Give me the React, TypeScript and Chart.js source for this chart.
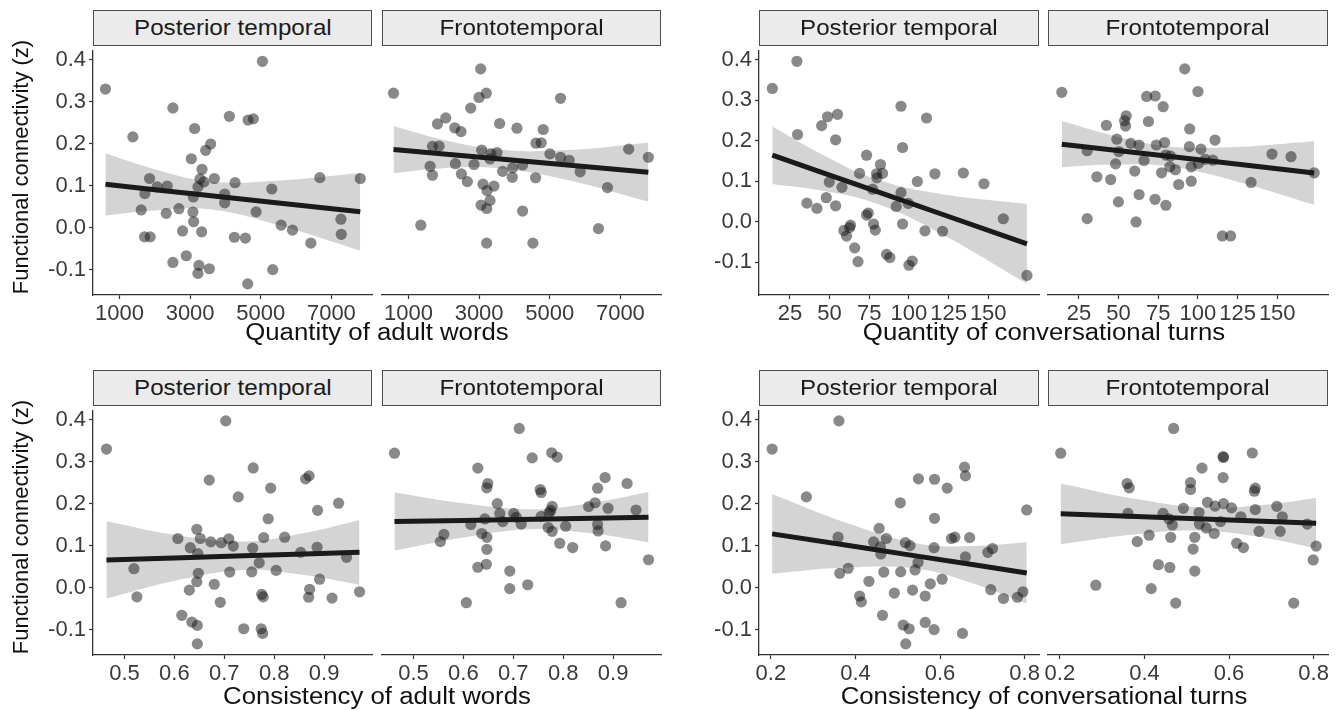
import React, { useEffect, useRef } from "react";
import { Chart, registerables } from "chart.js";

Chart.register(...registerables);

const FONT = "'Liberation Sans', Arial, Helvetica, sans-serif";

// ---------- labels ----------
const stripLabels = ["Posterior temporal", "Frontotemporal"];
const yTitle = "Functional connectivity (z)";
const xTitles = [
  "Quantity of adult words",
  "Quantity of conversational turns",
  "Consistency of adult words",
  "Consistency of conversational turns",
];

// ---------- tick values ----------
const yTicks = [-0.1, 0, 0.1, 0.2, 0.3, 0.4];
const wordsQtyTicks = [1000, 3000, 5000, 7000];
const turnsQtyTicks = [25, 50, 75, 100, 125, 150];
const wordsConsTicks = [0.5, 0.6, 0.7, 0.8, 0.9];
const turnsConsTicks = [0.2, 0.4, 0.6, 0.8];

// ---------- Quantity of adult words ----------
const ptWordsQtyX = [603, 5047, 1378, 2513, 4111, 4641, 4792, 3128, 3582, 3440, 3033, 3336, 1851, 3686, 3279, 3393, 4272, 6674, 7818, 2069, 2352, 3222, 1719, 3979, 5312, 3090, 3979, 2683, 1615, 2324, 3080, 4868, 3100, 5577, 7270, 5898, 2787, 3326, 7280, 1709, 1870, 4253, 4565, 6418, 2891, 2513, 3250, 3544, 5340, 3222, 4631];
const ptWordsQtyY = [0.330, 0.396, 0.216, 0.285, 0.265, 0.256, 0.259, 0.236, 0.199, 0.184, 0.164, 0.139, 0.117, 0.117, 0.116, 0.109, 0.107, 0.119, 0.117, 0.097, 0.099, 0.097, 0.081, 0.080, 0.092, 0.073, 0.059, 0.045, 0.042, 0.034, 0.037, 0.0375, 0.014, 0.006, 0.020, -0.006, -0.008, -0.010, -0.016, -0.022, -0.022, -0.023, -0.025, -0.037, -0.067, -0.083, -0.090, -0.098, -0.100, -0.109, -0.134];
const ptWordsQtyFitX = [603, 2000, 3600, 5500, 7818];
const ptWordsQtyFit = [0.103, 0.0903, 0.0758, 0.0585, 0.0375];
const ptWordsQtyLow = [0.029, 0.041, 0.043, 0.006, -0.055];
const ptWordsQtyHigh = [0.177, 0.139, 0.109, 0.112, 0.130];

const ftWordsQtyX = [3044, 576, 3204, 2997, 5305, 2762, 2055, 1820, 2309, 2488, 3581, 4071, 4815, 4608, 4759, 1678, 1867, 3072, 3336, 3506, 5004, 5305, 5550, 7236, 7792, 3308, 2328, 2856, 1612, 4231, 3949, 3666, 5861, 1678, 2498, 3939, 4599, 2667, 3110, 3421, 3223, 6633, 3308, 3054, 3214, 4231, 1349, 6379, 3214, 4523];
const ftWordsQtyY = [0.369, 0.312, 0.312, 0.302, 0.300, 0.277, 0.254, 0.240, 0.231, 0.222, 0.241, 0.230, 0.227, 0.195, 0.196, 0.1875, 0.188, 0.179, 0.170, 0.173, 0.170, 0.162, 0.155, 0.181, 0.162, 0.158, 0.147, 0.145, 0.141, 0.144, 0.1375, 0.129, 0.128, 0.120, 0.123, 0.115, 0.114, 0.105, 0.099, 0.0945, 0.084, 0.091, 0.061, 0.050, 0.042, 0.036, 0.003, -0.005, -0.039, -0.039];
const ftWordsQtyFitX = [576, 2000, 3600, 5500, 7792];
const ftWordsQtyFit = [0.180, 0.1695, 0.1578, 0.1438, 0.127];
const ftWordsQtyLow = [0.125, 0.1365, 0.1358, 0.1088, 0.058];
const ftWordsQtyHigh = [0.235, 0.2025, 0.1798, 0.1788, 0.196];

// ---------- Quantity of conversational turns ----------
const ptTurnsQtyX = [13.9, 29.4, 29.8, 45.0, 48.7, 55.0, 53.8, 95.0, 111.1, 96.0, 73.3, 82.1, 79.6, 83.4, 68.9, 116.4, 134.3, 147.3, 105.3, 79.8, 49.8, 57.8, 77.1, 95.0, 35.7, 42.0, 47.9, 53.8, 92.0, 99.6, 73.3, 74.4, 159.5, 77.7, 96.0, 63.2, 62.6, 59.0, 78.8, 110.1, 121.2, 60.7, 65.8, 85.9, 88.0, 67.9, 102.1, 100.0, 174.4];
const ptTurnsQtyY = [0.329, 0.396, 0.215, 0.237, 0.259, 0.265, 0.202, 0.285, 0.256, 0.183, 0.164, 0.141, 0.118, 0.119, 0.119, 0.118, 0.120, 0.0935, 0.099, 0.108, 0.0976, 0.0846, 0.080, 0.0715, 0.0455, 0.0325, 0.059, 0.039, 0.0374, 0.0447, 0.016, 0.021, 0.007, -0.006, -0.006, -0.009, -0.015, -0.022, -0.021, -0.023, -0.024, -0.036, -0.065, -0.081, -0.089, -0.099, -0.0976, -0.108, -0.133];
const ptTurnsQtyFitX = [13.9, 45, 80, 120, 174.4];
const ptTurnsQtyFit = [0.164, 0.1216, 0.0738, 0.0193, -0.055];
const ptTurnsQtyLow = [0.093, 0.0766, 0.0438, -0.0297, -0.1535];
const ptTurnsQtyHigh = [0.235, 0.1666, 0.1038, 0.0683, 0.0435];

const ftTurnsQtyX = [91.7, 14.2, 100.0, 67.7, 73.1, 78.1, 54.8, 53.8, 54.4, 42.3, 68.8, 94.8, 48.9, 57.7, 62.9, 73.8, 79.0, 94.6, 101.9, 110.8, 30.2, 50.2, 79.8, 82.7, 146.7, 158.7, 104.6, 109.4, 66.0, 48.1, 100.2, 82.3, 85.8, 95.8, 60.2, 77.1, 173.3, 36.3, 45.0, 87.9, 95.8, 133.5, 62.9, 73.0, 49.9, 79.8, 30.2, 61.0, 115.4, 120.6];
const ftTurnsQtyY = [0.368, 0.311, 0.313, 0.301, 0.302, 0.276, 0.254, 0.242, 0.229, 0.231, 0.240, 0.222, 0.197, 0.187, 0.183, 0.183, 0.189, 0.179, 0.173, 0.195, 0.169, 0.167, 0.1585, 0.156, 0.161, 0.1545, 0.148, 0.146, 0.1455, 0.137, 0.138, 0.130, 0.1228, 0.130, 0.1195, 0.1154, 0.1154, 0.1057, 0.099, 0.087, 0.095, 0.092, 0.0626, 0.051, 0.0447, 0.0366, 0.004, -0.004, -0.038, -0.038];
const ftTurnsQtyFitX = [14.2, 45, 80, 120, 173.3];
const ftTurnsQtyFit = [0.185, 0.1714, 0.156, 0.1384, 0.115];
const ftTurnsQtyLow = [0.129, 0.1354, 0.132, 0.0994, 0.038];
const ftTurnsQtyHigh = [0.241, 0.2074, 0.180, 0.1774, 0.192];

// ---------- Consistency of adult words ----------
const ptWordsConsX = [0.464, 0.703, 0.758, 0.670, 0.863, 0.870, 0.728, 0.793, 0.929, 0.887, 0.788, 0.645, 0.607, 0.652, 0.673, 0.694, 0.709, 0.718, 0.779, 0.821, 0.632, 0.757, 0.647, 0.886, 0.853, 0.770, 0.945, 0.519, 0.648, 0.711, 0.755, 0.804, 0.645, 0.680, 0.891, 0.630, 0.871, 0.971, 0.525, 0.775, 0.778, 0.869, 0.916, 0.692, 0.615, 0.635, 0.646, 0.739, 0.774, 0.777, 0.646];
const ptWordsConsY = [0.330, 0.397, 0.285, 0.256, 0.259, 0.266, 0.216, 0.237, 0.201, 0.184, 0.164, 0.139, 0.117, 0.117, 0.109, 0.107, 0.116, 0.099, 0.119, 0.120, 0.095, 0.094, 0.081, 0.096, 0.084, 0.059, 0.072, 0.045, 0.034, 0.037, 0.0375, 0.041, 0.014, 0.008, 0.020, -0.006, -0.004, -0.010, -0.022, -0.016, -0.022, -0.023, -0.025, -0.035, -0.066, -0.082, -0.090, -0.098, -0.098, -0.109, -0.134];
const ptWordsConsFitX = [0.464, 0.6, 0.74, 0.86, 0.971];
const ptWordsConsFit = [0.066, 0.0708, 0.0758, 0.080, 0.084];
const ptWordsConsLow = [-0.026, 0.0158, 0.0418, 0.030, 0.007];
const ptWordsConsHigh = [0.158, 0.1258, 0.1098, 0.130, 0.161];

const ftWordsConsX = [0.712, 0.462, 0.777, 0.788, 0.738, 0.629, 0.649, 0.647, 0.754, 0.756, 0.884, 0.869, 0.928, 0.668, 0.778, 0.775, 0.851, 0.864, 0.890, 0.946, 0.643, 0.673, 0.679, 0.701, 0.706, 0.716, 0.756, 0.772, 0.615, 0.805, 0.869, 0.770, 0.778, 0.870, 0.637, 0.561, 0.554, 0.647, 0.793, 0.819, 0.885, 0.647, 0.646, 0.629, 0.971, 0.693, 0.729, 0.693, 0.606, 0.916];
const ftWordsConsY = [0.370, 0.312, 0.313, 0.303, 0.301, 0.277, 0.241, 0.231, 0.227, 0.220, 0.255, 0.230, 0.241, 0.194, 0.1875, 0.178, 0.187, 0.196, 0.183, 0.179, 0.158, 0.171, 0.152, 0.171, 0.162, 0.146, 0.164, 0.173, 0.145, 0.141, 0.145, 0.138, 0.129, 0.130, 0.124, 0.122, 0.105, 0.115, 0.101, 0.091, 0.095, 0.087, 0.052, 0.045, 0.0625, 0.036, 0.004, -0.005, -0.038, -0.038];
const ftWordsConsFitX = [0.462, 0.6, 0.74, 0.86, 0.971];
const ftWordsConsFit = [0.152, 0.1547, 0.1575, 0.1598, 0.162];
const ftWordsConsLow = [0.084, 0.1147, 0.1345, 0.1238, 0.103];
const ftWordsConsHigh = [0.220, 0.1947, 0.1805, 0.1958, 0.221];

// ---------- Consistency of conversational turns ----------
const ptTurnsConsX = [0.203, 0.361, 0.284, 0.359, 0.363, 0.383, 0.506, 0.549, 0.587, 0.617, 0.658, 0.660, 0.805, 0.587, 0.456, 0.473, 0.443, 0.459, 0.460, 0.518, 0.529, 0.586, 0.627, 0.635, 0.670, 0.660, 0.713, 0.724, 0.548, 0.541, 0.467, 0.507, 0.432, 0.605, 0.577, 0.410, 0.414, 0.492, 0.535, 0.565, 0.720, 0.750, 0.783, 0.796, 0.464, 0.513, 0.527, 0.565, 0.586, 0.653, 0.519];
const ptTurnsConsY = [0.330, 0.397, 0.216, 0.120, 0.034, 0.046, 0.202, 0.259, 0.258, 0.237, 0.287, 0.266, 0.185, 0.165, 0.141, 0.117, 0.109, 0.097, 0.080, 0.107, 0.100, 0.095, 0.117, 0.120, 0.119, 0.073, 0.084, 0.093, 0.060, 0.042, 0.037, 0.0375, 0.015, 0.020, 0.009, -0.020, -0.034, -0.013, -0.006, -0.020, -0.005, -0.026, -0.023, -0.010, -0.066, -0.089, -0.098, -0.083, -0.100, -0.109, -0.134];
const ptTurnsConsFitX = [0.203, 0.38, 0.55, 0.68, 0.805];
const ptTurnsConsFit = [0.128, 0.1007, 0.0744, 0.0543, 0.035];
const ptTurnsConsLow = [0.033, 0.0477, 0.0444, 0.0093, -0.038];
const ptTurnsConsHigh = [0.223, 0.1537, 0.1044, 0.0993, 0.108];

const ftTurnsConsX = [0.469, 0.202, 0.587, 0.586, 0.655, 0.536, 0.586, 0.359, 0.364, 0.509, 0.509, 0.662, 0.660, 0.492, 0.549, 0.567, 0.587, 0.606, 0.662, 0.713, 0.361, 0.444, 0.529, 0.628, 0.726, 0.458, 0.466, 0.530, 0.546, 0.580, 0.785, 0.565, 0.671, 0.721, 0.411, 0.462, 0.519, 0.383, 0.618, 0.634, 0.806, 0.515, 0.799, 0.433, 0.460, 0.519, 0.285, 0.416, 0.474, 0.753];
const ftTurnsConsY = [0.370, 0.312, 0.302, 0.304, 0.3125, 0.277, 0.255, 0.241, 0.231, 0.243, 0.227, 0.230, 0.223, 0.183, 0.197, 0.188, 0.194, 0.184, 0.180, 0.1875, 0.171, 0.171, 0.173, 0.163, 0.163, 0.158, 0.144, 0.146, 0.137, 0.152, 0.146, 0.124, 0.129, 0.129, 0.120, 0.115, 0.115, 0.105, 0.101, 0.091, 0.0945, 0.0875, 0.062, 0.051, 0.0445, 0.036, 0.003, -0.005, -0.039, -0.039];
const ftTurnsConsFitX = [0.202, 0.38, 0.54, 0.68, 0.806];
const ftTurnsConsFit = [0.170, 0.1635, 0.1577, 0.1526, 0.148];
const ftTurnsConsLow = [0.099, 0.1225, 0.1307, 0.1146, 0.089];
const ftTurnsConsHigh = [0.241, 0.2045, 0.1847, 0.1906, 0.207];

// ---------- layout (positions only) ----------
const PLOT_H = 249;
const ROW_TOPS = [46, 406];
const COLS = [
  { left: 93, width: 279 },
  { left: 382, width: 279 },
  { left: 759, width: 280 },
  { left: 1048, width: 280 },
];
const Y_AXIS_W = 75;
const X_AXIS_H = 40;
const PAD_TOP = 12;
const PAD_RIGHT = 30;
const PAD_LEFT_NOAXIS = 20;

type PanelProps = {
  xs: number[];
  ys: number[];
  fitX: number[];
  fitY: number[];
  lowY: number[];
  highY: number[];
  xMin: number;
  xMax: number;
  yMin: number;
  yMax: number;
  xTicks: number[];
  xDigits: number;
  showY: boolean;
  row: number;
  col: number;
};

const pts = (xs: number[], ys: number[]) => xs.map((x, i) => ({ x, y: ys[i] }));

function ScatterPanel(p: PanelProps) {
  const ref = useRef<HTMLCanvasElement | null>(null);
  const col = COLS[p.col];
  const yW = p.showY ? Y_AXIS_W : 0;
  const padL = p.showY ? 0 : PAD_LEFT_NOAXIS;
  const cw = yW + padL + col.width + PAD_RIGHT;
  const ch = PAD_TOP + PLOT_H + X_AXIS_H;
  const left = col.left - yW - padL;
  const top = ROW_TOPS[p.row] - PAD_TOP;

  useEffect(() => {
    if (!ref.current) return;
    const axisColor = "#333333";
    const tickFont = { family: FONT, size: 22 };
    const chart = new Chart(ref.current, {
      type: "scatter",
      data: {
        datasets: [
          {
            type: "line",
            data: pts(p.fitX, p.fitY),
            borderColor: "#1a1a1a",
            borderWidth: 5,
            pointRadius: 0,
            fill: false,
            tension: 0,
            order: 0,
          } as any,
          {
            type: "scatter",
            data: pts(p.xs, p.ys),
            backgroundColor: "rgba(20,20,20,0.5)",
            borderWidth: 0,
            pointRadius: 5.6,
            order: 1,
          } as any,
          {
            type: "line",
            data: pts(p.fitX, p.highY),
            borderWidth: 0,
            borderColor: "rgba(0,0,0,0)",
            pointRadius: 0,
            fill: "+1",
            backgroundColor: "rgba(153,153,153,0.42)",
            tension: 0.4,
            order: 2,
          } as any,
          {
            type: "line",
            data: pts(p.fitX, p.lowY),
            borderWidth: 0,
            borderColor: "rgba(0,0,0,0)",
            pointRadius: 0,
            fill: false,
            tension: 0.4,
            order: 3,
          } as any,
        ],
      },
      options: {
        animation: false,
        responsive: false,
        maintainAspectRatio: false,
        events: [],
        layout: { padding: { left: padL, right: PAD_RIGHT, top: PAD_TOP, bottom: 0 } },
        plugins: {
          legend: { display: false },
          tooltip: { enabled: false },
          title: { display: false },
        },
        scales: {
          x: {
            type: "linear",
            position: "bottom",
            min: p.xMin,
            max: p.xMax,
            afterBuildTicks: (s: any) => {
              s.ticks = p.xTicks.map((v) => ({ value: v }));
            },
            afterFit: (s: any) => {
              s.height = X_AXIS_H;
            },
            grid: {
              drawOnChartArea: false,
              drawTicks: true,
              tickLength: 4,
              tickColor: axisColor,
              tickWidth: 1.2,
            },
            border: { display: true, color: axisColor, width: 1.3 },
            ticks: {
              autoSkip: false,
              maxRotation: 0,
              minRotation: 0,
              padding: 2,
              color: "#3a3a3a",
              font: tickFont,
              callback: (v: any) => Number(v).toFixed(p.xDigits),
            },
          },
          y: {
            type: "linear",
            display: p.showY,
            min: p.yMin,
            max: p.yMax,
            afterBuildTicks: (s: any) => {
              s.ticks = yTicks.map((v) => ({ value: v }));
            },
            afterFit: (s: any) => {
              s.width = p.showY ? Y_AXIS_W : 0;
            },
            grid: {
              drawOnChartArea: false,
              drawTicks: true,
              tickLength: 4,
              tickColor: axisColor,
              tickWidth: 1.2,
            },
            border: { display: true, color: axisColor, width: 1.3 },
            ticks: {
              padding: 3,
              color: "#3a3a3a",
              font: tickFont,
              callback: (v: any) => Number(v).toFixed(1),
            },
          },
        },
      } as any,
    });
    return () => chart.destroy();
  }, []);

  return (
    <canvas
      ref={ref}
      width={cw}
      height={ch}
      style={{ position: "absolute", left, top, width: cw, height: ch }}
    />
  );
}

function Strip({ row, col, label }: { row: number; col: number; label: string }) {
  const c = COLS[col];
  return (
    <div
      style={{
        position: "absolute",
        left: c.left,
        top: ROW_TOPS[row] - 36,
        width: c.width,
        height: 36,
        boxSizing: "border-box",
        border: "1px solid #4d4d4d",
        background: "#ebebeb",
        display: "flex",
        alignItems: "center",
        justifyContent: "center",
        fontFamily: FONT,
        fontSize: 22,
        color: "#1a1a1a",
      }}
    >
      <span style={{ display: "inline-block", transform: "scaleX(1.1)" }}>{label}</span>
    </div>
  );
}

function XTitle({ row, group, text }: { row: number; group: number; text: string }) {
  const a = COLS[group * 2];
  const b = COLS[group * 2 + 1];
  const center = (a.left + b.left + b.width) / 2;
  return (
    <div
      style={{
        position: "absolute",
        left: center - 250,
        width: 500,
        top: row === 0 ? 319 : 683,
        height: 26,
        lineHeight: "26px",
        textAlign: "center",
        fontFamily: FONT,
        fontSize: 23,
        color: "#111",
        transform: "scaleX(1.12)",
        transformOrigin: "center",
        whiteSpace: "nowrap",
      }}
    >
      {text}
    </div>
  );
}

function YTitle({ row }: { row: number }) {
  const cy = row === 0 ? 167 : 527;
  return (
    <div
      style={{
        position: "absolute",
        left: 21 - 150,
        top: cy - 13,
        width: 300,
        height: 26,
        lineHeight: "26px",
        textAlign: "center",
        fontFamily: FONT,
        fontSize: 22,
        color: "#111",
        transform: "rotate(-90deg)",
        transformOrigin: "center",
        whiteSpace: "nowrap",
      }}
    >
      {yTitle}
    </div>
  );
}

export default function App() {
  const Y_STD = { yMin: -0.1605, yMax: 0.4225 };
  const Y_TR = { yMin: -0.1815, yMax: 0.4235 };
  const WQ = { xMin: 250, xMax: 8150, xTicks: wordsQtyTicks, xDigits: 0 };
  const TQ = { xMin: 5.5, xMax: 182, xTicks: turnsQtyTicks, xDigits: 0 };
  const WC = { xMin: 0.437, xMax: 0.996, xTicks: wordsConsTicks, xDigits: 1 };
  const TC = { xMin: 0.172, xMax: 0.834, xTicks: turnsConsTicks, xDigits: 1 };

  return (
    <div
      style={{
        position: "fixed",
        left: 0,
        top: 0,
        width: 1344,
        height: 710,
        background: "#ffffff",
        overflow: "hidden",
      }}
    >
      <ScatterPanel row={0} col={0} showY {...WQ} {...Y_STD}
        xs={ptWordsQtyX} ys={ptWordsQtyY} fitX={ptWordsQtyFitX} fitY={ptWordsQtyFit} lowY={ptWordsQtyLow} highY={ptWordsQtyHigh} />
      <ScatterPanel row={0} col={1} showY={false} {...WQ} {...Y_STD}
        xs={ftWordsQtyX} ys={ftWordsQtyY} fitX={ftWordsQtyFitX} fitY={ftWordsQtyFit} lowY={ftWordsQtyLow} highY={ftWordsQtyHigh} />
      <ScatterPanel row={0} col={2} showY {...TQ} {...Y_TR}
        xs={ptTurnsQtyX} ys={ptTurnsQtyY} fitX={ptTurnsQtyFitX} fitY={ptTurnsQtyFit} lowY={ptTurnsQtyLow} highY={ptTurnsQtyHigh} />
      <ScatterPanel row={0} col={3} showY={false} {...TQ} {...Y_TR}
        xs={ftTurnsQtyX} ys={ftTurnsQtyY} fitX={ftTurnsQtyFitX} fitY={ftTurnsQtyFit} lowY={ftTurnsQtyLow} highY={ftTurnsQtyHigh} />
      <ScatterPanel row={1} col={0} showY {...WC} {...Y_STD}
        xs={ptWordsConsX} ys={ptWordsConsY} fitX={ptWordsConsFitX} fitY={ptWordsConsFit} lowY={ptWordsConsLow} highY={ptWordsConsHigh} />
      <ScatterPanel row={1} col={1} showY={false} {...WC} {...Y_STD}
        xs={ftWordsConsX} ys={ftWordsConsY} fitX={ftWordsConsFitX} fitY={ftWordsConsFit} lowY={ftWordsConsLow} highY={ftWordsConsHigh} />
      <ScatterPanel row={1} col={2} showY {...TC} {...Y_STD}
        xs={ptTurnsConsX} ys={ptTurnsConsY} fitX={ptTurnsConsFitX} fitY={ptTurnsConsFit} lowY={ptTurnsConsLow} highY={ptTurnsConsHigh} />
      <ScatterPanel row={1} col={3} showY={false} {...TC} {...Y_STD}
        xs={ftTurnsConsX} ys={ftTurnsConsY} fitX={ftTurnsConsFitX} fitY={ftTurnsConsFit} lowY={ftTurnsConsLow} highY={ftTurnsConsHigh} />

      {[0, 1].map((row) =>
        [0, 1, 2, 3].map((col) => (
          <Strip key={`s${row}${col}`} row={row} col={col} label={stripLabels[col % 2]} />
        ))
      )}

      <XTitle row={0} group={0} text={xTitles[0]} />
      <XTitle row={0} group={1} text={xTitles[1]} />
      <XTitle row={1} group={0} text={xTitles[2]} />
      <XTitle row={1} group={1} text={xTitles[3]} />

      <YTitle row={0} />
      <YTitle row={1} />
    </div>
  );
}
